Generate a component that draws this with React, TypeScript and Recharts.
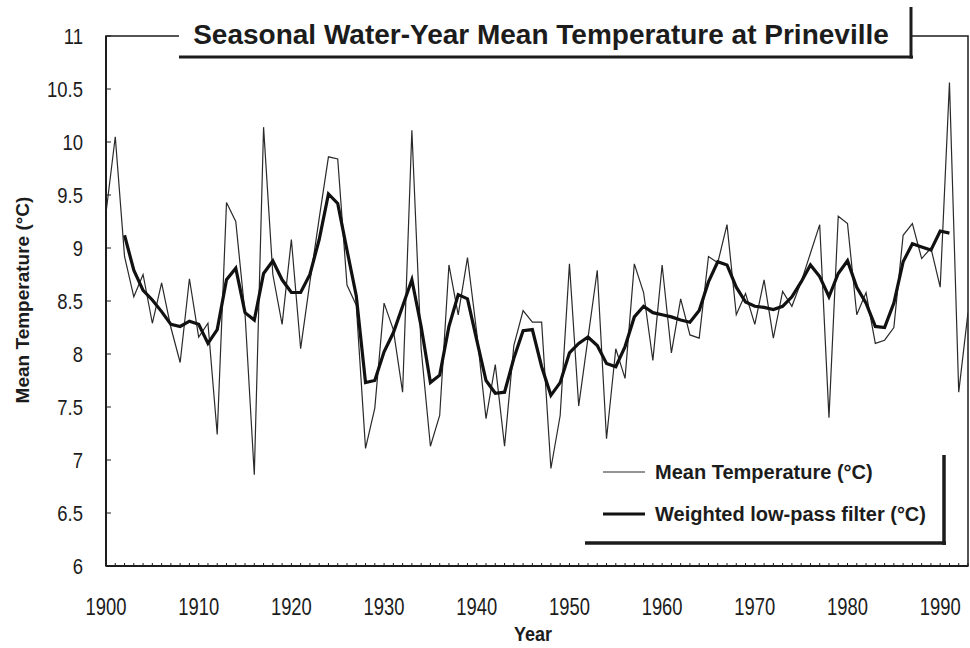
import React from 'react';
import { LineChart, Line, XAxis, YAxis, ReferenceArea } from 'recharts';

const years = [
  1900, 1901, 1902, 1903, 1904, 1905, 1906, 1907, 1908, 1909,
  1910, 1911, 1912, 1913, 1914, 1915, 1916, 1917, 1918, 1919,
  1920, 1921, 1922, 1923, 1924, 1925, 1926, 1927, 1928, 1929,
  1930, 1931, 1932, 1933, 1934, 1935, 1936, 1937, 1938, 1939,
  1940, 1941, 1942, 1943, 1944, 1945, 1946, 1947, 1948, 1949,
  1950, 1951, 1952, 1953, 1954, 1955, 1956, 1957, 1958, 1959,
  1960, 1961, 1962, 1963, 1964, 1965, 1966, 1967, 1968, 1969,
  1970, 1971, 1972, 1973, 1974, 1975, 1976, 1977, 1978, 1979,
  1980, 1981, 1982, 1983, 1984, 1985, 1986, 1987, 1988, 1989,
  1990, 1991, 1992, 1993,
];

const meanTemp = [
  9.33, 10.05, 8.92, 8.54, 8.75, 8.29, 8.67, 8.25, 7.92, 8.71,
  8.16, 8.29, 7.24, 9.43, 9.25, 8.38, 6.86, 10.14, 8.75, 8.28,
  9.08, 8.05, 8.68, 9.28, 9.86, 9.84, 8.65, 8.46, 7.11, 7.49,
  8.48, 8.23, 7.64, 10.11, 8.05, 7.13, 7.42, 8.84, 8.37, 8.91,
  8.20, 7.39, 7.90, 7.13, 8.08, 8.41, 8.30, 8.30, 6.92, 7.42,
  8.85, 7.51, 8.15, 8.79, 7.20, 8.05, 7.77, 8.85, 8.58, 7.94,
  8.84, 8.01, 8.52, 8.18, 8.15, 8.92, 8.86, 9.22, 8.37, 8.57,
  8.28, 8.70, 8.15, 8.59, 8.45, 8.68, 8.95, 9.22, 7.40, 9.30,
  9.23, 8.37, 8.58, 8.10, 8.13, 8.25, 9.12, 9.23, 8.90, 9.00,
  8.63, 10.56, 7.64, 8.39,
];

const lowPass = [
  null, null, 9.12, 8.79, 8.60, 8.51, 8.40, 8.28, 8.26, 8.31,
  8.28, 8.10, 8.23, 8.70, 8.81, 8.39, 8.32, 8.76, 8.88, 8.70,
  8.58, 8.58, 8.75, 9.08, 9.51, 9.42, 8.98, 8.55, 7.73, 7.75,
  8.02, 8.20, 8.45, 8.70, 8.26, 7.73, 7.80, 8.26, 8.56, 8.52,
  8.13, 7.75, 7.63, 7.64, 7.96, 8.22, 8.23, 7.88, 7.61, 7.73,
  8.01, 8.10, 8.16, 8.08, 7.91, 7.88, 8.07, 8.35, 8.45, 8.39,
  8.37, 8.35, 8.32, 8.30, 8.41, 8.68, 8.87, 8.84, 8.63, 8.49,
  8.45, 8.44, 8.42, 8.45, 8.54, 8.68, 8.84, 8.73, 8.54, 8.76,
  8.88, 8.63, 8.48, 8.26, 8.25, 8.48, 8.87, 9.04, 9.01, 8.98,
  9.16, 9.14, null, null,
];

const xTickLabels = [1900, 1910, 1920, 1930, 1940, 1950, 1960, 1970, 1980, 1990];
const yTickValues = [6, 6.5, 7, 7.5, 8, 8.5, 9, 9.5, 10, 10.5, 11];

const seriesNames = ['Mean Temperature (°C)', 'Weighted low-pass filter (°C)'];
const titleText = 'Seasonal Water-Year Mean Temperature at Prineville';

const data = years.map((year, i) => ({
  year,
  mean: meanTemp[i],
  filter: lowPass[i],
}));

const FONT = '"Liberation Sans", Arial, Helvetica, sans-serif';
const INK = '#1c1c1c';
const Y_TICK_SIZE = 6;
const Y_TICK_MARGIN = 17;
const X_TICK_SIZE = 6;
const X_TICK_MARGIN = 35;

const YTick = (props: any) => {
  const { x, y, payload } = props;
  const axisX = x + Y_TICK_SIZE + Y_TICK_MARGIN;
  return (
    <g>
      <line x1={axisX} x2={axisX + 5} y1={y} y2={y} stroke={INK} strokeWidth={1} />
      <text
        transform={`translate(${x},${y}) scale(0.84,1)`}
        textAnchor="end"
        dy="0.36em"
        fontSize={22}
        fontFamily={FONT}
        fill={INK}
      >
        {payload.value}
      </text>
    </g>
  );
};

const XTick = (props: any) => {
  const { x, y, payload } = props;
  const axisY = y - X_TICK_SIZE - X_TICK_MARGIN;
  const showLabel = xTickLabels.includes(payload.value);
  return (
    <g>
      <line x1={x} x2={x} y1={axisY} y2={axisY - 3} stroke={INK} strokeWidth={1} />
      {showLabel && (
        <text
          transform={`translate(${x},${y}) scale(0.8,1)`}
          textAnchor="middle"
          dy="0.36em"
          fontSize={23}
          fontFamily={FONT}
          fill={INK}
        >
          {payload.value}
        </text>
      )}
    </g>
  );
};

export default function App() {
  return (
    <div style={{ position: 'absolute', left: 0, top: 0, width: 970, height: 648, background: '#fff' }}>
      <LineChart
        width={970}
        height={648}
        data={data}
        margin={{ top: 36, right: 2, bottom: 22, left: 26 }}
      >
        <ReferenceArea
          x1={1900}
          x2={1993}
          y1={6}
          y2={11}
          fill="none"
          stroke={INK}
          strokeWidth={1.5}
          ifOverflow="visible"
        />
        <XAxis
          dataKey="year"
          type="number"
          domain={[1900, 1993]}
          ticks={years}
          interval={0}
          height={60}
          tickSize={X_TICK_SIZE}
          tickMargin={X_TICK_MARGIN}
          tickLine={false}
          axisLine={{ stroke: INK, strokeWidth: 2 }}
          tick={<XTick />}
          allowDataOverflow
        />
        <YAxis
          type="number"
          domain={[6, 11]}
          ticks={yTickValues}
          interval={0}
          width={80}
          tickSize={Y_TICK_SIZE}
          tickMargin={Y_TICK_MARGIN}
          tickLine={false}
          axisLine={{ stroke: INK, strokeWidth: 2 }}
          tick={<YTick />}
          allowDataOverflow
        />
        <Line
          type="linear"
          dataKey="mean"
          name={seriesNames[0]}
          stroke="#2a2a2a"
          strokeWidth={1.2}
          dot={false}
          isAnimationActive={false}
        />
        <Line
          type="linear"
          dataKey="filter"
          name={seriesNames[1]}
          stroke="#111"
          strokeWidth={3.2}
          dot={false}
          connectNulls={false}
          isAnimationActive={false}
        />
      </LineChart>
      <svg
        width={970}
        height={648}
        style={{ position: 'absolute', left: 0, top: 0, pointerEvents: 'none' }}
      >
        {/* title box */}
        <rect x={179} y={8} width={733} height={48} fill="#fff" />
        <line x1={179} x2={913} y1={57} y2={57} stroke={INK} strokeWidth={3} />
        <line x1={911} x2={911} y1={7} y2={58.5} stroke={INK} strokeWidth={3} />
        <text x={541} y={44} textAnchor="middle" fontSize={28} fontWeight="bold" fontFamily={FONT} fill={INK}>
          {titleText}
        </text>
        {/* legend */}
        <line x1={603} x2={645} y1={472} y2={472} stroke="#2a2a2a" strokeWidth={1.2} />
        <text x={655} y={472} dy="0.36em" fontSize={20} fontWeight="bold" fontFamily={FONT} fill={INK}>
          {seriesNames[0]}
        </text>
        <line x1={603} x2={645} y1={514} y2={514} stroke="#111" strokeWidth={3.2} />
        <text x={655} y={514} dy="0.36em" fontSize={20} fontWeight="bold" fontFamily={FONT} fill={INK}>
          {seriesNames[1]}
        </text>
        <line x1={944} x2={944} y1={455} y2={545} stroke={INK} strokeWidth={3.5} />
        <line x1={585} x2={946} y1={543} y2={543} stroke={INK} strokeWidth={3.5} />
        {/* axis titles */}
        <text
          transform="translate(22,300) rotate(-90)"
          textAnchor="middle"
          dy="0.36em"
          fontSize={19}
          fontWeight="bold"
          fontFamily={FONT}
          fill={INK}
        >
          Mean Temperature (°C)
        </text>
        <text
          transform="translate(533,634) scale(0.9,1)"
          textAnchor="middle"
          dy="0.36em"
          fontSize={20}
          fontWeight="bold"
          fontFamily={FONT}
          fill={INK}
        >
          Year
        </text>
      </svg>
    </div>
  );
}
